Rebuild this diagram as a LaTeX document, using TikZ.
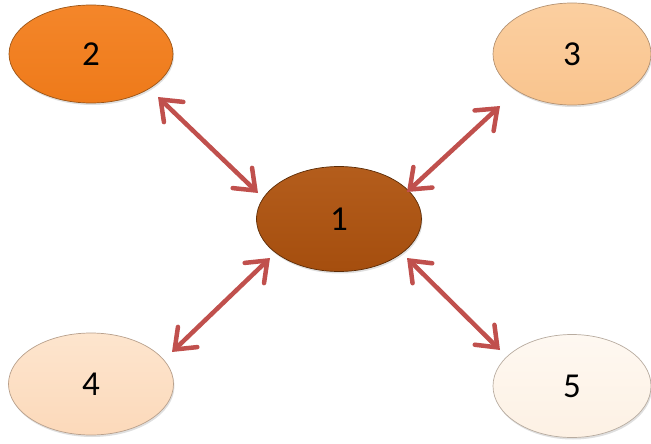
\documentclass[tikz,border=0pt]{standalone}
\usepackage{fontspec}
\setmainfont{Carlito}
\usetikzlibrary{shapes.geometric,arrows.meta,shadows}

\definecolor{linkred}{HTML}{C0504D}
\definecolor{oneTop}{HTML}{B45D1C}
\definecolor{oneBot}{HTML}{A54E0E}
\definecolor{oneRim}{HTML}{5C2C06}
\definecolor{twoTop}{HTML}{F4862A}
\definecolor{twoBot}{HTML}{EE7A1A}
\definecolor{twoRim}{HTML}{9A5416}
\definecolor{threeTop}{HTML}{FBCFA0}
\definecolor{threeBot}{HTML}{F9C48E}
\definecolor{threeRim}{HTML}{B49272}
\definecolor{fourTop}{HTML}{FDE5CE}
\definecolor{fourBot}{HTML}{FCD9BA}
\definecolor{fourRim}{HTML}{B8A08C}
\definecolor{fiveTop}{HTML}{FEF8F1}
\definecolor{fiveBot}{HTML}{FDF1E4}
\definecolor{fiveRim}{HTML}{B8ACA0}

\tikzset{
  blob/.style n args={3}{ellipse, inner sep=0pt,
    top color=#1, bottom color=#2, draw=#3, line width=0.7pt,
    drop shadow={opacity=0.25, shadow xshift=1pt, shadow yshift=-2pt},
    font=\fontsize{35}{40}\selectfont, text=black},
  barb/.tip={Straight Barb[length=18pt, width=28pt, line cap=round]},
  link/.style={draw=linkred, line width=4.5pt, barb-barb}
}

\begin{document}
\begin{tikzpicture}[x=1pt, y=-1pt]
  \useasboundingbox (0,0) rectangle (651,444);

  % the five ovals
  \node[blob={oneTop}{oneBot}{oneRim}, minimum width=165pt, minimum height=105pt] (n1) at (339,219) {1};
  \node[blob={twoTop}{twoBot}{twoRim}, minimum width=164pt, minimum height=98pt] (n2) at (91,54) {2};
  \node[blob={threeTop}{threeBot}{threeRim}, minimum width=158pt, minimum height=102pt] (n3) at (572,54) {3};
  \node[blob={fourTop}{fourBot}{fourRim}, minimum width=165pt, minimum height=102pt] (n4) at (91,384) {4};
  \node[blob={fiveTop}{fiveBot}{fiveRim}, minimum width=158pt, minimum height=103pt] (n5) at (572,386) {5};

  % two-headed links between the centre oval and each outer one
  \draw[link] ([shift={(67,43)}]n2.center) -- ([shift={(-81,-26)}]n1.center);
  \draw[link] ([shift={(-72,52)}]n3.center) -- ([shift={(68,-27)}]n1.center);
  \draw[link] ([shift={(81,-32)}]n4.center) -- ([shift={(-69,39)}]n1.center);
  \draw[link] ([shift={(68,39)}]n1.center) -- ([shift={(-72,-36)}]n5.center);
\end{tikzpicture}
\end{document}
